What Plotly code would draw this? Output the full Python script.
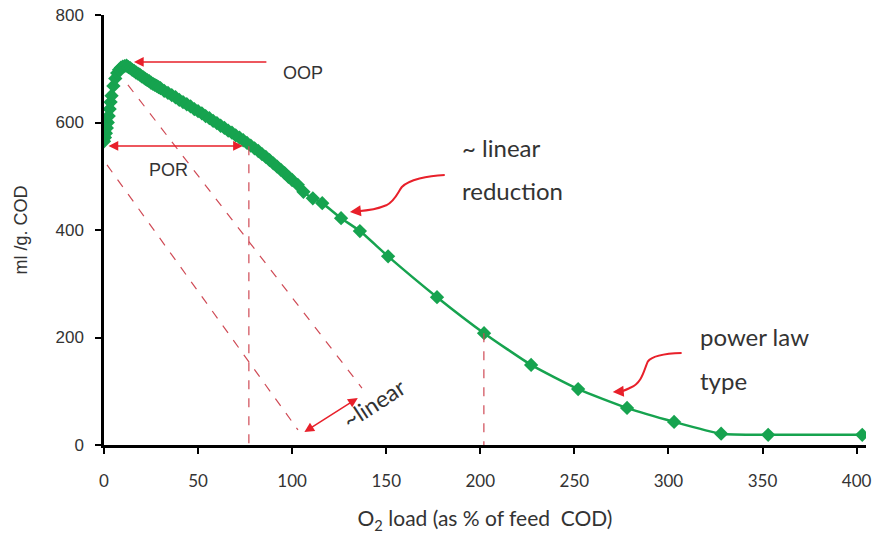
import plotly.graph_objects as go

# O2 load (% of feed COD) and specific gas production (ml/g COD)
o2_load = [0, 0.5, 1, 1.5, 2, 2.5, 3, 3.5, 4, 5, 6, 7, 8, 9, 10, 11, 12, 13, 14, 15,
           16, 17, 18, 19, 20, 21, 22, 23, 24, 25, 26, 27, 28, 29, 30, 32, 34, 36, 38, 40,
           42, 44, 46, 48, 50, 52, 54, 56, 58, 60, 62, 64, 66, 68, 70, 72, 74, 76, 78, 80,
           82, 84, 86, 88, 90, 92, 94, 96, 98, 100, 103, 106, 111, 116, 126, 136, 151, 177,
           202, 227, 252, 278, 303, 328, 353, 403]
ml_per_g = [565, 572, 580, 590, 600, 612, 625, 638, 650, 668, 682, 692, 698, 702, 704, 705, 706, 703, 701, 698,
            696, 693, 691, 689, 686, 684, 681, 679, 677, 674, 672, 670, 668, 666, 664, 659, 655, 651, 647, 642,
            638, 634, 630, 625, 621, 617, 612, 608, 603, 599, 594, 590, 585, 581, 576, 572, 567, 562, 557, 552,
            547, 541, 536, 530, 524, 518, 512, 506, 499, 493, 484, 471, 459, 450, 422, 398, 351, 275,
            208, 149, 104, 69, 43, 21, 19, 19]

x_ticks = [0, 50, 100, 150, 200, 250, 300, 350, 400]
y_ticks = [0, 200, 400, 600, 800]

GREEN = "#16a34f"
RED = "#e8202a"
DASH = "#cf4a55"
FONT = "Lato"
TXT = "#333333"

fig = go.Figure()
fig.add_trace(go.Scatter(
    x=o2_load, y=ml_per_g, mode="lines+markers",
    line=dict(color=GREEN, width=2.5, shape="spline", smoothing=0.5),
    marker=dict(symbol="diamond", size=11, color=GREEN),
    showlegend=False, hoverinfo="x+y"))

shapes = []
# dashed guide lines
for (x0, y0, x1, y1) in [(1.6, 521, 103.1, 28), (12.7, 670, 137.1, 106),
                         (77.0, 556, 77.0, 0), (201.9, 208, 201.9, 0)]:
    shapes.append(dict(type="line", xref="x", yref="y", x0=x0, y0=y0, x1=x1, y1=y1,
                       line=dict(color=DASH, width=1.2, dash="dash")))
# curved arrow bodies
shapes.append(dict(type="path", xref="x", yref="y",
                   path="M 181.1,502.3 C 172,501 162,494 158.3,480 C 156,470 155,455 150,446 C 146,440 140,436 135,435",
                   line=dict(color=RED, width=2)))
shapes.append(dict(type="path", xref="x", yref="y",
                   path="M 307,171 C 297,170 291,165 289,155 C 287,140 286,115 280,107 C 277,102 276,100 274,99.5",
                   line=dict(color=RED, width=2)))

annotations = []
# straight arrows
annotations.append(dict(x=15.9, y=712.6, ax=87.1, ay=712.6, xref="x", yref="y", axref="x", ayref="y",
                        text="", showarrow=True, arrowhead=2, arrowsize=1.3, arrowwidth=1.5, arrowcolor=RED))
annotations.append(dict(x=73.8, y=556.3, ax=1.6, ay=556.3, xref="x", yref="y", axref="x", ayref="y",
                        text="", showarrow=True, arrowhead=2, startarrowhead=2, arrowside="end+start",
                        arrowsize=1.3, startarrowsize=1.3, arrowwidth=1.5, arrowcolor=RED))
annotations.append(dict(x=134.9, y=87.4, ax=105.7, ay=22.3, xref="x", yref="y", axref="x", ayref="y",
                        text="", showarrow=True, arrowhead=2, startarrowhead=2, arrowside="end+start",
                        arrowsize=1.3, startarrowsize=1.3, arrowwidth=1.5, arrowcolor=RED))
# heads of curved arrows
annotations.append(dict(x=130.7, y=433.5, ax=136, ay=435.5, xref="x", yref="y", axref="x", ayref="y",
                        text="", showarrow=True, arrowhead=2, arrowsize=1.1, arrowwidth=2, arrowcolor=RED))
annotations.append(dict(x=270.4, y=98.6, ax=275, ay=99.8, xref="x", yref="y", axref="x", ayref="y",
                        text="", showarrow=True, arrowhead=2, arrowsize=1.1, arrowwidth=2, arrowcolor=RED))
# texts
annotations.append(dict(x=105.7, y=692, xref="x", yref="y", text="OOP", showarrow=False,
                        font=dict(family="Liberation Sans", size=18, color=TXT)))
annotations.append(dict(x=34.5, y=511.6, xref="x", yref="y", text="POR", showarrow=False,
                        font=dict(family="Liberation Sans", size=18, color=TXT)))
for txt, xx, yy in [("~ linear", 189.1, 554), ("reduction", 189.1, 473),
                    ("power law", 315.5, 202), ("type", 315.5, 120)]:
    annotations.append(dict(x=xx, y=yy, xref="x", yref="y", text=txt, showarrow=False,
                            xanchor="left", font=dict(family=FONT, size=24, color=TXT)))
annotations.append(dict(x=143.5, y=78, xref="x", yref="y", text="~linear", showarrow=False,
                        textangle=-33, font=dict(family=FONT, size=23, color=TXT)))

fig.update_layout(
    width=876, height=543,
    margin=dict(l=104, r=10, t=15, b=98),
    paper_bgcolor="white", plot_bgcolor="white",
    font=dict(family=FONT, size=14, color=TXT),
    shapes=shapes, annotations=annotations,
    xaxis=dict(range=[0, 405], tickvals=x_ticks, ticks="outside", ticklen=6, tickwidth=2,
               tickcolor="black", showline=True, linecolor="black", linewidth=2.5,
               showgrid=False, zeroline=False, ticklabelstandoff=13, automargin=False,
               title=dict(text="O<sub>2</sub> load (as % of feed  COD)", standoff=22,
                          font=dict(family=FONT, size=21, color=TXT)),
               tickfont=dict(family=FONT, size=17, color=TXT)),
    yaxis=dict(range=[0, 800], tickvals=y_ticks, ticks="outside", ticklen=6, tickwidth=2,
               tickcolor="black", showline=True, linecolor="black", linewidth=2.5,
               showgrid=False, zeroline=False, ticklabelstandoff=8, automargin=False,
               title=dict(text="ml /g. COD", standoff=24,
                          font=dict(family="Liberation Sans", size=18, color=TXT)),
               tickfont=dict(family="Liberation Sans", size=17, color=TXT)),
)

fig.write_html("out.html")
